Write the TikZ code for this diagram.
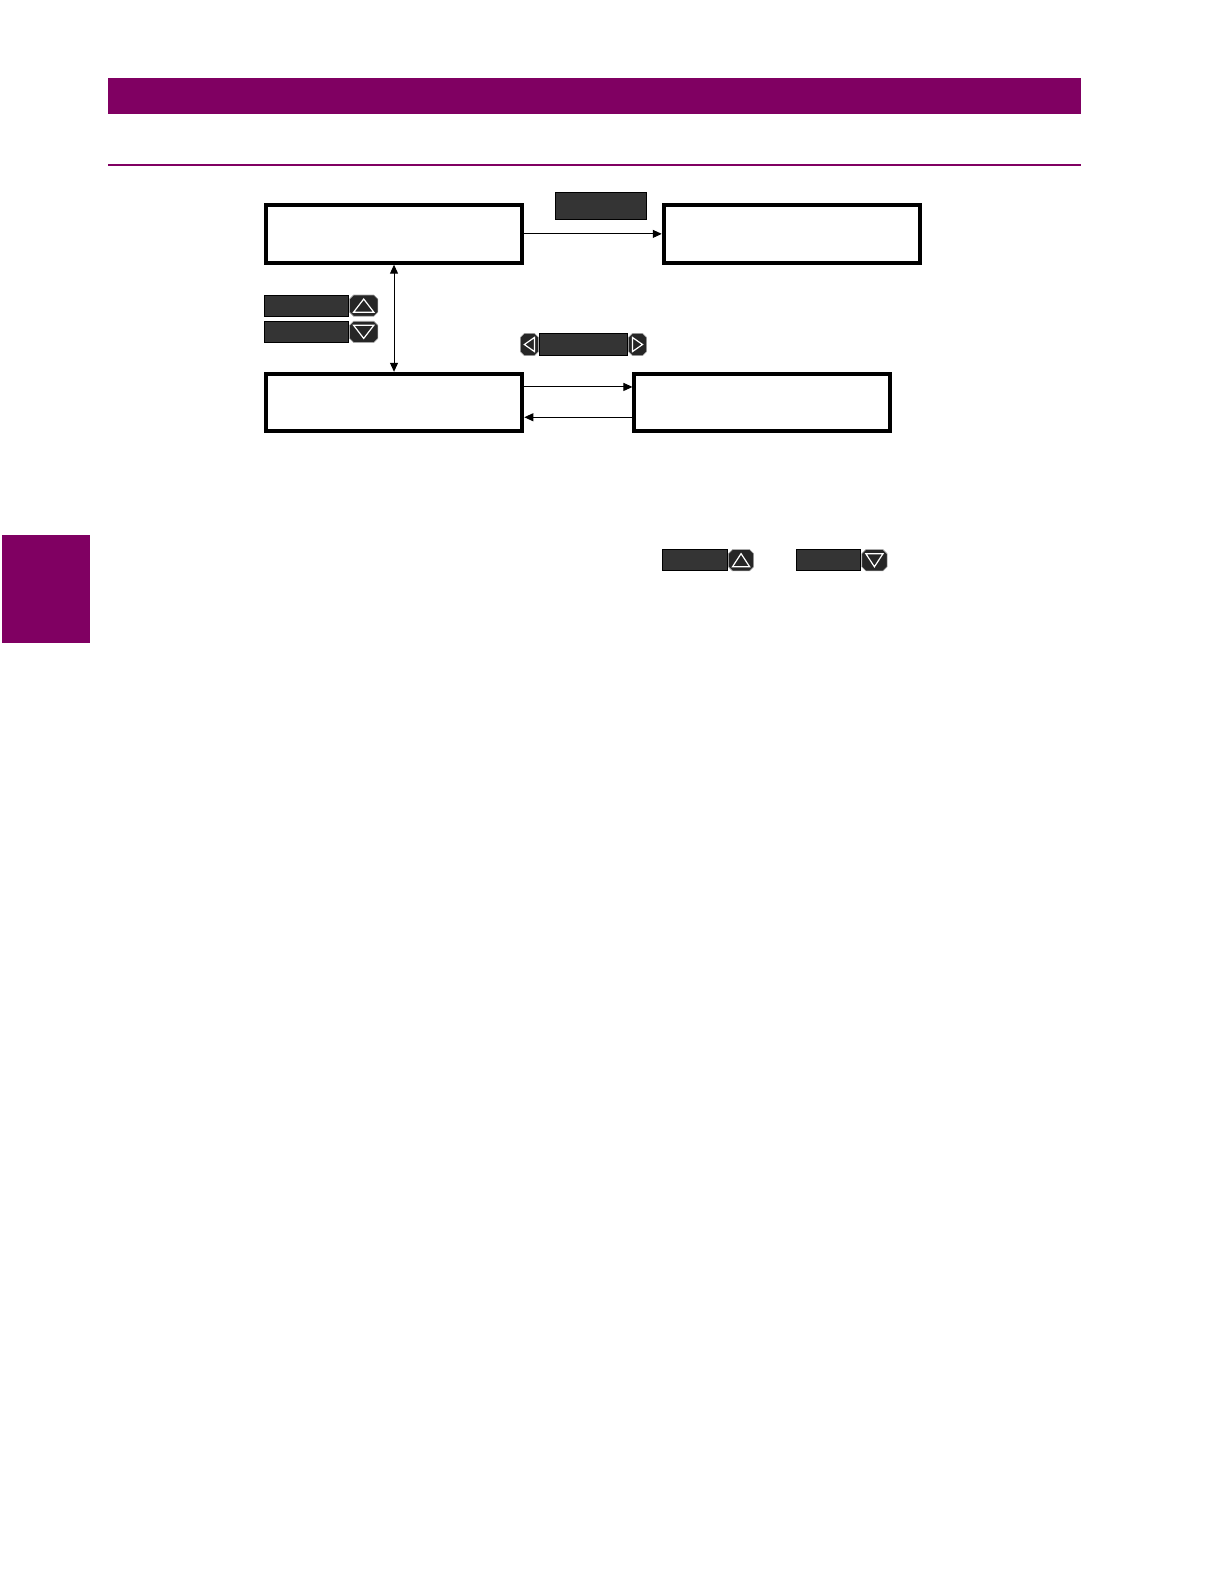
\documentclass[tikz,border=0pt]{standalone}
\usetikzlibrary{arrows.meta}
\definecolor{gepurple}{RGB}{128,0,98}
\definecolor{keydark}{RGB}{52,52,52}
\definecolor{btndark}{RGB}{38,38,38}
\newcommand\skf{1.0103}
\newcommand\btnshape[4]{%
  \filldraw[btndark,draw=gray!70,line width=0.6pt] ({#1+4},#2) -- ({#3-4},#2) -- (#3,{#2+4}) -- (#3,{#4-4}) -- ({#3-4},#4) -- ({#1+4},#4) -- (#1,{#4-4}) -- (#1,{#2+4}) -- cycle;}
\newcommand\upbtn[4]{\btnshape{#1}{#2}{#3}{#4}%
  \draw[white,line width=1.2pt,line join=miter] ({(#1+#3)/2},{#2+4}) -- ({#3-4},{#4-4}) -- ({#1+4},{#4-4}) -- cycle;}
\newcommand\downbtn[4]{\btnshape{#1}{#2}{#3}{#4}%
  \draw[white,line width=1.2pt,line join=miter] ({(#1+#3)/2},{#4-4}) -- ({#3-4},{#2+4}) -- ({#1+4},{#2+4}) -- cycle;}
\newcommand\leftbtn[4]{\btnshape{#1}{#2}{#3}{#4}%
  \draw[white,line width=1.2pt,line join=miter] ({#1+4},{(#2+#4)/2}) -- ({#3-4},{#2+4}) -- ({#3-4},{#4-4}) -- cycle;}
\newcommand\rightbtn[4]{\btnshape{#1}{#2}{#3}{#4}%
  \draw[white,line width=1.2pt,line join=miter] ({#3-4},{(#2+#4)/2}) -- ({#1+4},{#2+4}) -- ({#1+4},{#4-4}) -- cycle;}
\begin{document}
\begin{tikzpicture}[x=\skf pt,y=-\skf pt,
  dispbox/.style={draw=black,line width=4pt,minimum width=\skf*254pt,minimum height=\skf*57pt,inner sep=0pt},
  keybox/.style={draw=black,fill=keydark,line width=0.8pt,inner sep=0pt,outer sep=0pt},
  conn/.style={line width=1pt,-{Triangle[length=9pt,width=8pt]}},
  dconn/.style={line width=1pt,{Triangle[length=9pt,width=8pt]}-{Triangle[length=9pt,width=8pt]}}]
\useasboundingbox (0,0) rectangle ({1224/\skf},{1584/\skf});
% header
\fill[gepurple] (107,77) rectangle (1070,113);
\fill[gepurple] (107,162.5) rectangle (1070,164.5);
\fill[gepurple] (2,530) rectangle (89,636);
% display boxes
\node[dispbox] (A) at (390,231.5) {};
\node[dispbox] (B) at (784,231.5) {};
\node[dispbox] (C) at (390,398.5) {};
\node[dispbox,minimum width=\skf*253pt] (D) at (754.5,398.5) {};
% keys
\node[keybox,minimum width=\skf*90pt,minimum height=\skf*27pt] (enter) at (595,203.5) {};
\node[keybox,minimum width=\skf*83pt,minimum height=\skf*21pt] (kup) at (303.5,302.5) {};
\node[keybox,minimum width=\skf*83pt,minimum height=\skf*21pt] (kdown) at (303.5,328.5) {};
\node[keybox,minimum width=\skf*87pt,minimum height=\skf*22pt] (klr) at (577.5,341) {};
\node[keybox,minimum width=\skf*64pt,minimum height=\skf*21pt] (kup2) at (688,554.5) {};
\node[keybox,minimum width=\skf*64pt,minimum height=\skf*21pt] (kdown2) at (820,554.5) {};
\upbtn{346}{292}{374}{313}
\downbtn{346}{318}{374}{339}
\leftbtn{515}{330}{533}{352}
\rightbtn{622}{330}{640}{352}
\upbtn{721}{544}{746}{565}
\downbtn{853}{544}{878}{565}
% connectors
\draw[conn] (A.east) -- (B.west);
\draw[dconn] (A.south) -- (C.north);
\draw[conn] ([yshift=\skf*15.5pt]C.east) -- ([yshift=\skf*15.5pt]D.west);
\draw[conn] ([yshift=-\skf*14.5pt]D.west) -- ([yshift=-\skf*14.5pt]C.east);
\end{tikzpicture}
\end{document}
